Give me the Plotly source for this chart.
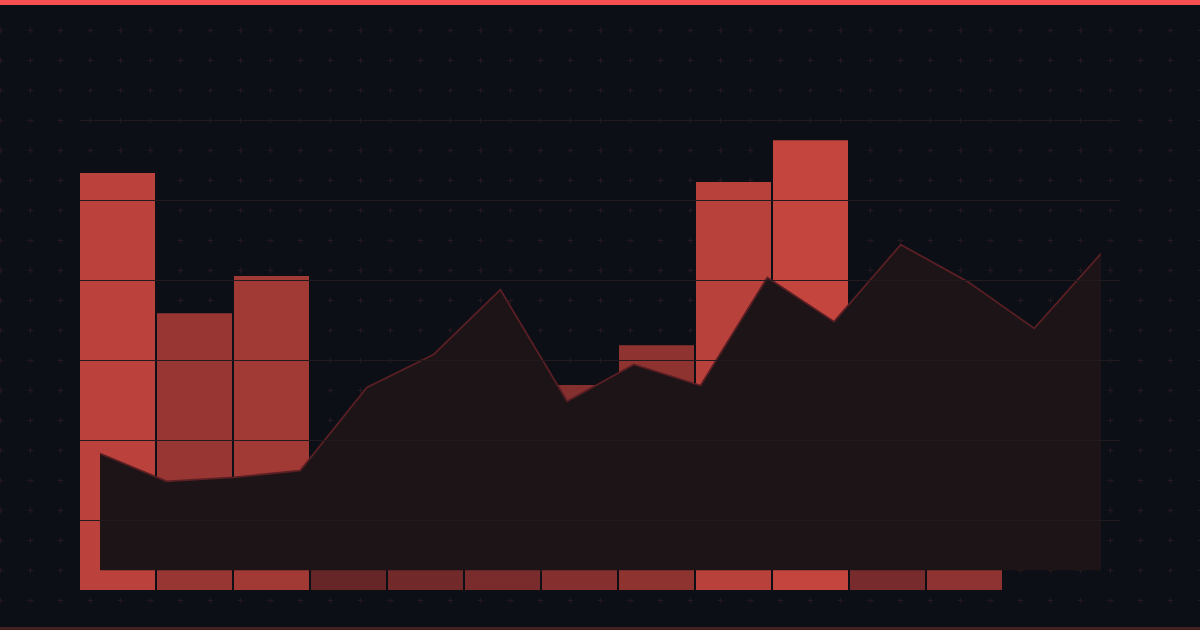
import numpy as np
import plotly.graph_objects as go

# ---- data ----
bar_categories = [f"B{i+1}" for i in range(12)]
bar_values = [88.7, 58.9, 66.8, 18.3, 28.1, 34.7, 43.6, 52.1, 86.8, 95.7, 33.2, 51.3]

area_index = list(range(16))
area_values = [26.0, 19.8, 20.7, 22.2, 40.7, 48.0, 62.4, 37.6, 45.8, 41.1, 65.1, 55.3, 72.4, 64.2, 53.8, 70.4]

grid_ticks = [20, 40, 60, 80, 100, 120]

W, H = 1200, 630
BG = "#0c0f16"

def px_x(a, b):
    return [a / W, b / W]

def px_y(bottom, top):
    return [(H - bottom) / H, (H - top) / H]

fig = go.Figure()

# background cross pattern (decoration)
gx, gy = np.meshgrid(np.arange(0, W + 1, 30) + 0.5, np.arange(30, H + 1, 30) + 0.5)
fig.add_trace(go.Scatter(
    x=gx.ravel(), y=gy.ravel(), mode="markers", xaxis="x", yaxis="y",
    marker=dict(symbol="cross-thin", size=4, line=dict(width=1, color="#27191f"), color="#27191f"),
    hoverinfo="skip", showlegend=False,
))

# bars
fig.add_trace(go.Bar(
    x=bar_categories, y=bar_values, xaxis="x2", yaxis="y2",
    marker=dict(color=bar_values, colorscale=[[0, "rgb(80,29,34)"], [1, "rgb(201,71,63)"]],
                cmin=0, cmax=100, line=dict(width=0)),
    showlegend=False,
))

# area
fig.add_trace(go.Scatter(
    x=area_index, y=area_values, xaxis="x3", yaxis="y3", mode="lines",
    line=dict(color="#5a1f24", width=1.8), fill="tozeroy", fillcolor="#1c1416",
    showlegend=False,
))

# grid overlay subplot (drawn above traces)
fig.add_trace(go.Scatter(x=[None], y=[None], xaxis="x4", yaxis="y4", showlegend=False, hoverinfo="skip"))

hidden = dict(showgrid=False, zeroline=False, showticklabels=False, showline=False, ticks="", fixedrange=True)

fig.update_layout(
    width=W, height=H,
    margin=dict(l=0, r=0, t=0, b=0),
    paper_bgcolor=BG, plot_bgcolor="rgba(0,0,0,0)",
    bargap=2 / 77,
    xaxis=dict(domain=[0, 1], range=[0, W], anchor="y", **hidden),
    yaxis=dict(domain=[0, 1], range=[H, 0], anchor="x", **hidden),
    xaxis2=dict(domain=px_x(79, 1003), range=[-0.5, 11.5], anchor="y2", **hidden),
    yaxis2=dict(domain=px_y(590, 120), range=[0, 100], anchor="x2", **hidden),
    xaxis3=dict(domain=px_x(100, 1101), range=[0, 15], anchor="y3", **hidden),
    yaxis3=dict(domain=px_y(570.5, 120.5), range=[0, 100], anchor="x3", **hidden),
    xaxis4=dict(domain=px_x(80, 1120), range=[0, 1], anchor="y4", **hidden),
    yaxis4=dict(domain=px_y(600, 116), range=[0, 121], anchor="x4",
                showgrid=True, gridcolor="#221a1f", gridwidth=1, tickvals=grid_ticks,
                zeroline=False, showticklabels=False, showline=False, ticks="", fixedrange=True),
    shapes=[
        dict(type="rect", xref="paper", yref="paper", x0=0, x1=1, y0=(H - 5) / H, y1=1,
             fillcolor="#f75050", line=dict(width=0), layer="above"),
        dict(type="rect", xref="paper", yref="paper", x0=0, x1=1, y0=0, y1=3 / H,
             fillcolor="#44201f", line=dict(width=0), layer="above"),
    ],
)

fig.write_html(
    "out.html",
    config={"displayModeBar": False},
    post_script="document.body.style.margin='0';document.body.style.background='#0c0f16';",
)
